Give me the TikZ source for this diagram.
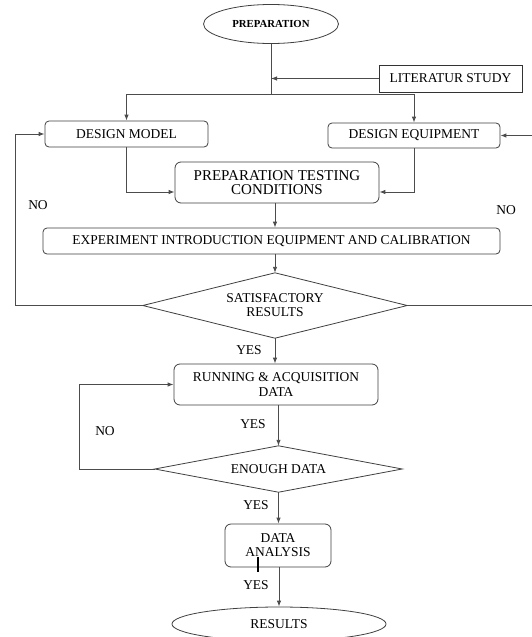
\documentclass[tikz,border=0pt]{standalone}
\usepackage{fontspec}
\setmainfont{Liberation Serif}
\usetikzlibrary{shapes.geometric,arrows.meta}
\tikzset{
  box/.style={draw=black!75,line width=0.8pt,rounded corners=4pt,inner sep=0pt,
    align=center,font=\fontsize{13.5}{14.5}\selectfont},
  dia/.style={inner sep=0pt,align=center,font=\fontsize{13.5}{14}\selectfont},
  lbl/.style={font=\fontsize{13.5}{14.5}\selectfont,inner sep=0pt},
  line/.style={draw=black!70,line width=0.9pt},
  arr/.style={line,-{Latex[length=6pt,width=4.5pt]}}
}
\begin{document}
\begin{tikzpicture}[x=1pt,y=-1pt]
      \useasboundingbox[fill=white] (0,0) rectangle (531,637);
      \node[ellipse,draw=black!75,line width=0.8pt,minimum width=135,minimum height=39,
        inner sep=0pt,font=\fontsize{10.75}{11}\selectfont\bfseries] (prep) at (271,24) {PREPARATION};
      \node[draw=black!80,line width=0.8pt,minimum width=143,minimum height=27,inner sep=0pt,
        font=\fontsize{13.5}{14}\selectfont] (lit) at (450.5,78.5) {LITERATUR STUDY};
      \node[box,minimum width=163,minimum height=26] (dmodel) at (126.5,134) {DESIGN MODEL};
      \node[box,minimum width=172,minimum height=25] (dequip) at (414,135.5) {DESIGN EQUIPMENT};
      \node[box,minimum width=204,minimum height=41,rounded corners=6pt,
        font=\fontsize{15}{14.5}\selectfont] (ptc) at (277,182.5) {PREPARATION TESTING\\CONDITIONS};
      \node[box,minimum width=457,minimum height=26] (exp) at (271.5,241)
        {EXPERIMENT INTRODUCTION EQUIPMENT AND CALIBRATION};
      \node[dia,minimum width=264,minimum height=65] (sat) at (275,305.5) {SATISFACTORY\\RESULTS};
      \node[box,minimum width=204,minimum height=41,rounded corners=6pt] (run) at (276,384.5)
        {RUNNING \& ACQUISITION\\DATA};
      \node[dia,minimum width=247,minimum height=46] (enough) at (278.5,469) {ENOUGH DATA};
      \node[box,minimum width=106,minimum height=43,rounded corners=6pt,
        font=\fontsize{13.5}{14}\selectfont] (ana) at (278,545.5) {DATA\\ANALYSIS};
      \node[ellipse,draw=black!75,line width=0.8pt,minimum width=214,minimum height=34,
        inner sep=0pt,font=\fontsize{13.5}{14}\selectfont] (res) at (279,624) {RESULTS};
      % diamonds
      \draw[black!75,line width=0.8pt] (sat.north) -- (sat.east) -- (sat.south) -- (sat.west) -- cycle;
      \draw[black!75,line width=0.8pt] (enough.north) -- (enough.east) -- (enough.south) -- (enough.west) -- cycle;
      % labels
      \node[lbl] (no1) at (38,205) {NO};
      \node[lbl] (no2) at (506,210) {NO};
      \node[lbl] (yes1) at (249,350) {YES};
      \node[lbl] (yes2) at (253,424) {YES};
      \node[lbl] (no3) at (105,431) {NO};
      \node[lbl] (yes3) at (256,505) {YES};
      \node[lbl] (yes4) at (256,585) {YES};
      % turning points
      \coordinate (j1) at (271,94);
      \coordinate (nol) at (15,305.5);
      \coordinate (nor) at (536,305.5);
      \coordinate (nod) at (79,469);
      \begin{scope}[line]
        \draw (prep.south) to (j1);
        \draw (dmodel.north |- j1) to (dequip.north |- j1);
        \draw (sat.west) to (nol);
        \draw (sat.east) to (nor);
        \draw (enough.west) to (nod);
        \draw[line width=2pt,draw=black] (258,557) to (258,572);
      \end{scope}
      \begin{scope}[arr]
        \draw (lit.west) to (lit.west -| j1);
        \draw (dmodel.north |- j1) to (dmodel.north);
        \draw (dequip.north |- j1) to (dequip.north);
        \draw (dmodel.south) |- ([yshift=-9.5pt]ptc.west);
        \draw (dequip.south) |- ([yshift=-9.5pt]ptc.east);
        \draw (ptc.south -| sat.north) to (exp.north -| sat.north);
        \draw (exp.south -| sat.north) to (sat.north);
        \draw (nol) |- (dmodel.west);
        \draw (nor) |- (dequip.east);
        \draw (sat.south) to (sat.south |- run.north);
        \draw (run.south -| enough.north) to (enough.north);
        \draw (nod) |- (run.west);
        \draw (enough.south) to (enough.south |- ana.north);
        \draw (ana.south -| res.north) to (res.north);
      \end{scope}
    \end{tikzpicture}
\end{document}
